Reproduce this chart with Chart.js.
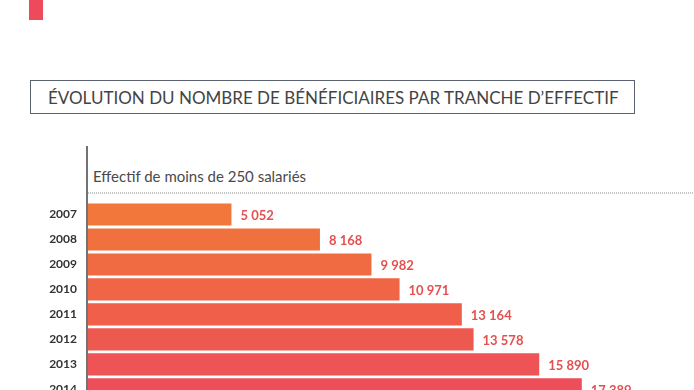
<!DOCTYPE html>
<html>
<head>
<meta charset="utf-8">
<script src="https://cdn.jsdelivr.net/npm/chart.js@4"></script>
<style>
  html, body { margin: 0; padding: 0; background: #fff; overflow: hidden; width: 694px; height: 390px; }
  #redmark { position: absolute; left: 29px; top: 0; width: 14px; height: 20px; background: #ef4a5b; }
  #titlebox {
    position: absolute; left: 30px; top: 80px; width: 603px; height: 32px;
    border: 1.5px solid #5b6270; box-sizing: content-box;
    font-family: Lato, sans-serif; font-weight: 400; font-size: 17px; color: #444;
    line-height: 32px;
  }
  #titlebox span { position: absolute; left: 17px; top: 1px; white-space: nowrap; }
  #subtitle {
    position: absolute; left: 93px; top: 167px;
    font-family: Lato, sans-serif; font-size: 15px; color: #4a4a4a; white-space: nowrap;
  }
  #wrap { position: absolute; left: 0; top: 0; width: 694px; height: 420px; }
  #chart { width: 694px; height: 420px; display: block; }
</style>
</head>
<body>
<div id="redmark"></div>
<div id="titlebox"><span>ÉVOLUTION DU NOMBRE DE BÉNÉFICIAIRES PAR TRANCHE D’EFFECTIF</span></div>
<div id="subtitle">Effectif de moins de 250 salariés</div>
<div id="wrap"><canvas id="chart" width="694" height="420"></canvas></div>
<script>
// data
const years = ["2007", "2008", "2009", "2010", "2011", "2012", "2013", "2014"];
const beneficiaires = [5052, 8168, 9982, 10971, 13164, 13578, 15890, 17389];
const barColors = ["#f1773a", "#f0713d", "#f06b41", "#ef6545", "#ef5f4a", "#ee594f", "#ee5355", "#ee4e59"];

function fmt(n) {
  return String(n).replace(/\B(?=(\d{3})+(?!\d))/g, " ");
}

// axis line, dotted rule and value labels
const decor = {
  id: "decor",
  afterDatasetsDraw(chart) {
    const ctx = chart.ctx;
    const area = chart.chartArea;
    ctx.save();

    // dotted rule under the subtitle
    ctx.fillStyle = "#8a8a8a";
    for (let x = 88; x < 694; x += 2) {
      ctx.fillRect(x, 192.5, 1, 1);
    }

    // vertical axis line
    ctx.strokeStyle = "#444";
    ctx.lineWidth = 1.5;
    ctx.beginPath();
    ctx.moveTo(area.left - 1, 146);
    ctx.lineTo(area.left - 1, chart.height);
    ctx.stroke();

    // value labels
    const meta = chart.getDatasetMeta(0);
    ctx.font = "bold 13px Lato, sans-serif";
    ctx.fillStyle = "#e4504f";
    ctx.textAlign = "left";
    ctx.textBaseline = "middle";
    meta.data.forEach((bar, i) => {
      ctx.fillText(fmt(beneficiaires[i]), bar.x + 9, bar.y + 1);
    });
    ctx.restore();
  }
};

new Chart(document.getElementById("chart"), {
  type: "bar",
  data: {
    labels: years,
    datasets: [{
      data: beneficiaires,
      backgroundColor: barColors,
      borderWidth: 0,
      barPercentage: 0.885,
      categoryPercentage: 1
    }]
  },
  options: {
    indexAxis: "y",
    responsive: false,
    maintainAspectRatio: false,
    animation: false,
    devicePixelRatio: 1,
    layout: { padding: { top: 202, bottom: 0, left: 0, right: 0 } },
    plugins: {
      legend: { display: false },
      tooltip: { enabled: false }
    },
    scales: {
      x: {
        display: false,
        min: 0,
        max: 21340
      },
      y: {
        grid: { display: false, drawTicks: false },
        border: { display: false },
        ticks: {
          color: "#333",
          font: { family: "Lato, sans-serif", weight: "bold", size: 12 },
          padding: 11
        },
        afterFit(scale) { scale.width = 88; }
      }
    }
  },
  plugins: [decor]
});
</script>
</body>
</html>
